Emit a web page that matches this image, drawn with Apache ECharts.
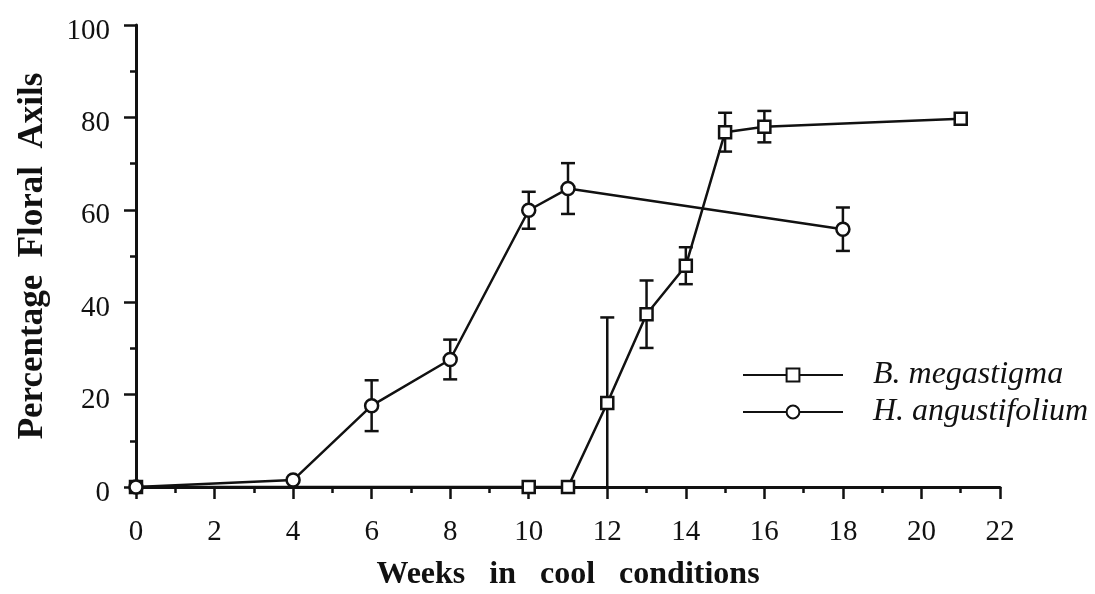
<!DOCTYPE html>
<html>
<head>
<meta charset="utf-8">
<script src="https://cdn.jsdelivr.net/npm/echarts@6/dist/echarts.min.js"></script>
<style>
  html, body { margin: 0; padding: 0; background: #fff; }
  #chart { width: 1095px; height: 594px; }
</style>
</head>
<body>
<div id="chart"></div>
<script>
// Weeks of cool treatment and percentage of floral axils (mean ± error)
const weeksB = [0, 10, 11, 12, 13, 14, 15, 16, 21];
const pctB   = [0, 0, 0, 18.2, 37.4, 47.9, 76.8, 78.0, 79.7];
const errB   = [0, 0, 0, 18.5, 7.3, 4.0, 4.2, 3.4, 0];

const weeksH = [0, 4, 6, 8, 10, 11, 18];
const pctH   = [0, 1.5, 17.6, 27.6, 59.9, 64.6, 55.8];
const errH   = [0, 0, 5.5, 4.3, 4.0, 5.5, 4.7];

const nameB = 'B. megastigma';
const nameH = 'H. angustifolium';

const xTicks = { min: 0, max: 22, step: 2 };
const yTicks = { min: 0, max: 100, step: 20 };

const serif = 'Liberation Serif';
const ink = '#111';

function pairs(xs, ys) { return xs.map((x, i) => [x, ys[i]]); }
function errTriples(xs, ys, es) {
  return xs.map((x, i) => [x, Math.max(0, ys[i] - es[i]), ys[i] + es[i], es[i]]);
}

// vertical error bar with a cap at each end (no lower cap when it reaches the axis)
function renderErr(params, api) {
  const e = api.value(3);
  if (!e) return null;
  const lo = api.value(1), hi = api.value(2);
  const pLo = api.coord([api.value(0), lo]);
  const pHi = api.coord([api.value(0), hi]);
  const cap = 7;
  const style = { stroke: ink, lineWidth: 2.5 };
  const children = [
    { type: 'line', shape: { x1: pHi[0], y1: pHi[1], x2: pLo[0], y2: pLo[1] }, style },
    { type: 'line', shape: { x1: pHi[0] - cap, y1: pHi[1], x2: pHi[0] + cap, y2: pHi[1] }, style }
  ];
  if (lo > 0) {
    children.push({ type: 'line', shape: { x1: pLo[0] - cap, y1: pLo[1], x2: pLo[0] + cap, y2: pLo[1] }, style });
  }
  return { type: 'group', children };
}

const chart = echarts.init(document.getElementById('chart'), null, { renderer: 'canvas' });

const axisCommon = {
  type: 'value',
  axisLine: { show: true, lineStyle: { color: ink, width: 3 } },
  axisTick: { show: true, inside: false, length: 12, lineStyle: { color: ink, width: 2.5 } },
  minorTick: { show: true, splitNumber: 2, length: 6, lineStyle: { color: ink, width: 2.5 } },
  splitLine: { show: false },
  minorSplitLine: { show: false },
  axisLabel: { color: ink, fontFamily: serif, fontSize: 29 }
};

chart.setOption({
  animation: false,
  backgroundColor: '#fff',
  grid: { left: 136, right: 95, top: 25, bottom: 107, containLabel: false, outerBoundsMode: 'none' },
  xAxis: Object.assign({}, axisCommon, {
    min: xTicks.min, max: xTicks.max, interval: xTicks.step,
    name: 'Weeks   in   cool   conditions',
    nameLocation: 'middle', nameGap: 72,
    nameTextStyle: { color: ink, fontFamily: serif, fontSize: 32, fontWeight: 'bold' },
    axisLabel: Object.assign({}, axisCommon.axisLabel, { margin: 31 })
  }),
  yAxis: Object.assign({}, axisCommon, {
    min: yTicks.min, max: yTicks.max, interval: yTicks.step,
    name: 'Percentage  Floral  Axils',
    nameLocation: 'middle', nameGap: 86,
    nameTextStyle: { color: ink, fontFamily: serif, fontSize: 35, fontWeight: 'bold' },
    axisLabel: Object.assign({}, axisCommon.axisLabel, {
      margin: 26,
      formatter: '{v|{value}}',
      rich: { v: { fontFamily: serif, fontSize: 29, color: ink, padding: [12, 0, 0, 0] } }
    })
  }),
  legend: {
    orient: 'vertical',
    left: 742, top: 359, padding: 0,
    itemWidth: 100, itemHeight: 16, itemGap: 5,
    data: [nameB, nameH],
    textStyle: { color: ink, fontFamily: serif, fontSize: 32, fontStyle: 'italic', lineHeight: 30, padding: [0, 0, 0, 25] }
  },
  series: [
    {
      type: 'custom', name: 'errB', renderItem: renderErr, z: 1,
      data: errTriples(weeksB, pctB, errB), silent: true
    },
    {
      type: 'custom', name: 'errH', renderItem: renderErr, z: 1,
      data: errTriples(weeksH, pctH, errH), silent: true
    },
    {
      type: 'line', name: nameB, data: pairs(weeksB, pctB), z: 3,
      symbol: 'rect', symbolSize: 12, showAllSymbol: true,
      lineStyle: { color: ink, width: 2.5 },
      itemStyle: { color: '#fff', borderColor: ink, borderWidth: 2.5 }
    },
    {
      type: 'line', name: nameH, data: pairs(weeksH, pctH), z: 3,
      symbol: 'circle', symbolSize: 13, showAllSymbol: true,
      lineStyle: { color: ink, width: 2.5 },
      itemStyle: { color: '#fff', borderColor: ink, borderWidth: 2.5 }
    }
  ]
});
</script>
</body>
</html>
